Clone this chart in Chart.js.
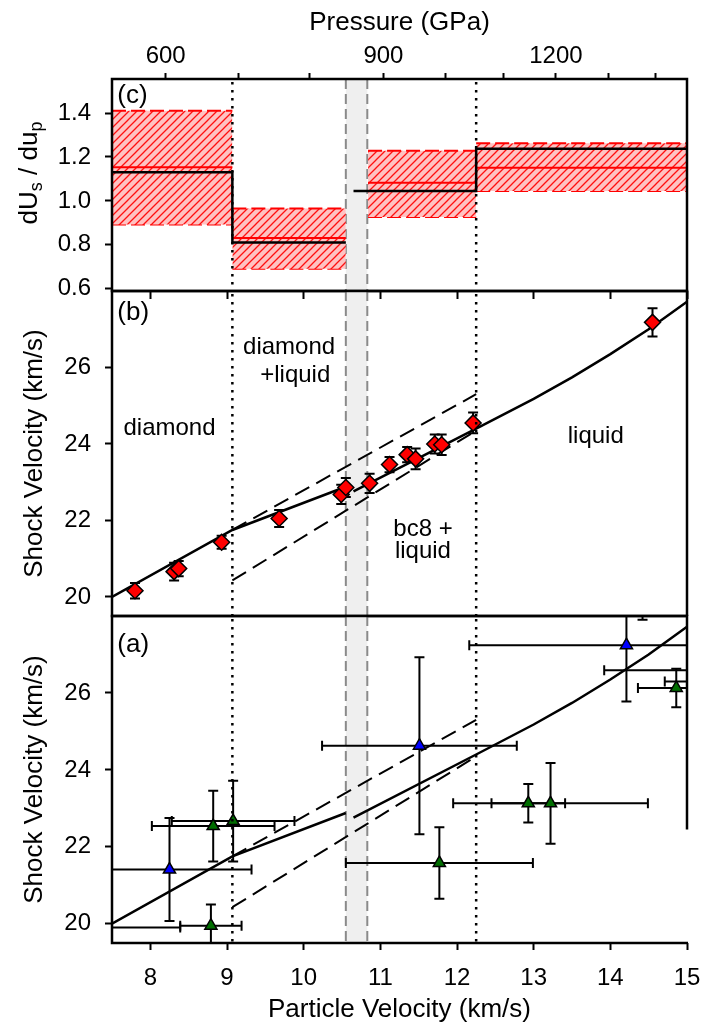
<!DOCTYPE html>
<html>
<head>
<meta charset="utf-8">
<script src="https://cdn.jsdelivr.net/npm/chart.js@4.4.1/dist/chart.umd.min.js"></script>
<style>
  body { margin: 0; background: #fff; }
  #wrap { position: relative; width: 706px; height: 1025px; }
  #wrap canvas { position: absolute; left: 0; top: 0; width: 706px; height: 1025px; }
</style>
</head>
<body>
<div id="wrap">
  <canvas id="panelC" width="706" height="1025"></canvas>
  <canvas id="panelB" width="706" height="1025"></canvas>
  <canvas id="panelA" width="706" height="1025"></canvas>
</div>
<script>
// shared x axis (particle velocity, km/s)
const upMin = 7.5, upMax = 15;
const velTicks = [8, 9, 10, 11, 12, 13, 14, 15];
// top axis: pressure (GPa) and where each tick sits in particle velocity
const pressureTicks = [600, 700, 800, 900, 1000, 1100, 1200, 1300, 1400];
const pressureAtUp = [8.20, 9.15, 10.08, 11.04, 11.85, 12.61, 13.29, 13.97, 14.59];
const pressureLabelled = [600, 900, 1200];

const phaseBounds = [9.07, 12.25];     // dotted lines
const bandEdges = [10.55, 10.83];      // grey band

// (c) dUs/dup
const slopeTicks = [0.6, 0.8, 1.0, 1.2, 1.4];
const slopeX0 = [7.5, 9.07, 10.84, 12.25];
const slopeX1 = [9.07, 10.55, 12.25, 15.0];
const slopeHi = [1.41, 0.966, 1.228, 1.263];
const slopeLo = [0.893, 0.691, 0.927, 1.045];
const slopeMid = [1.153, 0.831, 1.083, 1.151];
const stepX = [7.5, 9.07, 9.07, 10.55, null, 10.65, 12.25, 12.25, 15.0];
const stepY = [1.13, 1.13, 0.811, 0.811, null, 1.045, 1.045, 1.237, 1.237];

// Us-up fit and bounds (panels a and b)
const usTicks = [20, 22, 24, 26];
const fitX = [7.5, 9.07, 10.55, null, 10.65, 12.25, 13.0, 13.5, 14.0, 14.5, 15.0];
const fitY = [20.0, 21.75, 22.88, null, 22.76, 24.40, 25.18, 25.74, 26.35, 27.0, 27.72];
const upperX = [9.07, 12.25];
const upperY = [21.75, 25.30];
const lowerX = [9.07, 12.25];
const lowerY = [20.43, 24.35];

// (b) this work
const bUp = [7.80, 8.31, 8.37, 8.93, 9.68, 10.49, 10.55, 10.86, 11.12, 11.35, 11.46, 11.71, 11.80, 12.21, 14.55];
const bUs = [20.16, 20.66, 20.74, 21.43, 22.05, 22.68, 22.86, 22.97, 23.46, 23.72, 23.61, 24.00, 23.98, 24.55, 27.18];
const bErr = [0.20, 0.23, 0.20, 0.17, 0.22, 0.25, 0.25, 0.25, 0.20, 0.20, 0.27, 0.25, 0.27, 0.27, 0.37];

// (a) earlier data
const blueUp = [8.25, 11.51, 14.21];
const blueUs = [21.41, 24.63, 27.24];
const blueErrUp = [1.07, 1.27, 2.05];
const blueErrUs = [1.34, 2.30, 1.46];
const greenUp = [7.20, 8.79, 8.82, 9.08, 11.77, 12.93, 13.22, 14.42, 14.86, 15.20, 15.30];
const greenUs = [19.90, 19.95, 22.54, 22.67, 21.58, 23.13, 23.13, 28.90, 26.13, 26.30, 26.59];
const greenErrUp = [1.19, 0.40, 0.80, 0.80, 1.22, 0.48, 1.27, 0, 0.50, 0.49, 1.38];
const greenErrUs = [0.50, 0.55, 0.92, 1.05, 0.93, 0.50, 1.05, 1.00, 0.50, 0.50, 0.50];

const FONT = "'Liberation Sans', Arial, Helvetica, sans-serif";
Chart.defaults.font.family = FONT;
Chart.defaults.color = '#000';

const pts = (xs, ys) => xs.map((x, i) => ({x: x, y: ys[i]}));

function hatchPattern() {
    const c = document.createElement('canvas');
    c.width = 8; c.height = 8;
    const g = c.getContext('2d');
    g.fillStyle = '#ffc2c2';
    g.fillRect(0, 0, 8, 8);
    g.strokeStyle = '#ff1010';
    g.lineWidth = 1.3;
    g.beginPath();
    g.moveTo(0, 8); g.lineTo(8, 0);
    g.moveTo(-1, 1); g.lineTo(1, -1);
    g.moveTo(7, 9); g.lineTo(9, 7);
    g.stroke();
    return g.createPattern(c, 'repeat');
}

const framePlugin = {
    id: 'frame',
    afterDraw(chart, args, opts) {
        const {ctx, chartArea: a} = chart;
        const rEnd = opts.rightStop != null ? chart.scales.y.getPixelForValue(opts.rightStop) : a.bottom;
        ctx.save();
        ctx.strokeStyle = '#000';
        ctx.lineWidth = 2.5;
        ctx.beginPath();
        ctx.moveTo(a.right, rEnd);
        ctx.lineTo(a.right, a.top);
        ctx.lineTo(a.left, a.top);
        ctx.lineTo(a.left, a.bottom);
        ctx.lineTo(a.right + 1, a.bottom);
        ctx.stroke();
        ctx.restore();
    }
};

const guidePlugin = {
    id: 'guides',
    beforeDatasetsDraw(chart) {
        const {ctx, chartArea: a} = chart;
        const x = chart.scales.x;
        const x0 = x.getPixelForValue(bandEdges[0]);
        const x1 = x.getPixelForValue(bandEdges[1]);
        ctx.save();
        ctx.fillStyle = '#efefef';
        ctx.fillRect(x0, a.top, x1 - x0, a.bottom - a.top);
        ctx.strokeStyle = '#8a8a8a';
        ctx.lineWidth = 2;
        ctx.setLineDash([10, 5]);
        bandEdges.forEach(v => {
            const px = x.getPixelForValue(v);
            ctx.beginPath(); ctx.moveTo(px, a.top); ctx.lineTo(px, a.bottom); ctx.stroke();
        });
        ctx.restore();
    },
    afterDatasetsDraw(chart) {
        const {ctx, chartArea: a} = chart;
        const x = chart.scales.x;
        ctx.save();
        ctx.strokeStyle = '#000';
        ctx.lineWidth = 2.5;
        ctx.setLineDash([2.5, 5.5]);
        phaseBounds.forEach(v => {
            const px = x.getPixelForValue(v);
            ctx.beginPath(); ctx.moveTo(px, a.top + 3); ctx.lineTo(px, a.bottom); ctx.stroke();
        });
        ctx.restore();
    }
};

// error bars, drawn under the markers and clipped to the panel
const errorBarPlugin = {
    id: 'errbars',
    beforeDatasetsDraw(chart, args, opts) {
        if (!opts.series) return;
        const {ctx, chartArea: a} = chart;
        const xs = chart.scales.x, ys = chart.scales.y;
        const cap = 5;
        ctx.save();
        ctx.beginPath();
        ctx.rect(a.left, a.top, a.right - a.left, a.bottom - a.top);
        ctx.clip();
        ctx.strokeStyle = '#000';
        ctx.lineWidth = 2;
        opts.series.forEach(s => {
            s.x.forEach((xv, i) => {
                const px = xs.getPixelForValue(xv), py = ys.getPixelForValue(s.y[i]);
                const ey = s.ey ? s.ey[i] : 0, ex = s.ex ? s.ex[i] : 0;
                ctx.beginPath();
                if (ey) {
                    const t = ys.getPixelForValue(s.y[i] + ey), b = ys.getPixelForValue(s.y[i] - ey);
                    ctx.moveTo(px, t); ctx.lineTo(px, b);
                    ctx.moveTo(px - cap, t); ctx.lineTo(px + cap, t);
                    ctx.moveTo(px - cap, b); ctx.lineTo(px + cap, b);
                }
                if (ex) {
                    const l = xs.getPixelForValue(xv - ex), r = xs.getPixelForValue(xv + ex);
                    ctx.moveTo(l, py); ctx.lineTo(r, py);
                    ctx.moveTo(l, py - cap); ctx.lineTo(l, py + cap);
                    ctx.moveTo(r, py - cap); ctx.lineTo(r, py + cap);
                }
                ctx.stroke();
            });
        });
        ctx.restore();
    }
};

const textPlugin = {
    id: 'texts',
    afterDraw(chart, args, opts) {
        const {ctx} = chart;
        const xs = chart.scales.x, ys = chart.scales.y;
        ctx.save();
        ctx.fillStyle = '#000';
        ctx.textBaseline = 'middle';
        (opts.items || []).forEach(t => {
            ctx.font = (t.size || 24) + 'px ' + FONT;
            ctx.textAlign = t.align || 'center';
            ctx.fillText(t.text, xs.getPixelForValue(t.x), ys.getPixelForValue(t.y));
        });
        if (opts.subTitle) {
            // rotated axis title with subscripts
            const a = chart.chartArea;
            ctx.translate(37, (a.top + a.bottom) / 2 - 12);
            ctx.rotate(-Math.PI / 2);
            ctx.textAlign = 'left';
            ctx.textBaseline = 'alphabetic';
            const parts = opts.subTitle;
            let total = 0;
            parts.forEach(p => {
                ctx.font = (p.sub ? 18 : 26) + 'px ' + FONT;
                total += ctx.measureText(p.text).width;
            });
            let cx = -total / 2;
            parts.forEach(p => {
                ctx.font = (p.sub ? 18 : 26) + 'px ' + FONT;
                ctx.fillText(p.text, cx, p.sub ? 5 : 0);
                cx += ctx.measureText(p.text).width;
            });
        }
        ctx.restore();
    }
};

const tickGrid = len => ({drawOnChartArea: false, drawTicks: true, tickLength: len, tickWidth: 2, color: '#000'});

// keep end labels from shrinking the plot area
function fixHeight(h) {
    return s => { s.height = h; s.paddingLeft = 0; s.paddingRight = 0; };
}

function hiddenX() {
    return {type: 'linear', min: upMin, max: upMax, display: false};
}

function usAxis() {
    return {
        min: 19.5, max: 28,
        afterBuildTicks: s => { s.ticks = usTicks.map(v => ({value: v})); },
        afterFit: s => { s.width = 112; },
        ticks: {font: {size: 24}, padding: 14},
        grid: tickGrid(7),
        border: {display: false},
        title: {display: true, text: 'Shock Velocity (km/s)', font: {size: 26}, padding: {top: 19}}
    };
}

function lineSet(data, color, width, dash, order) {
    return {data: data, borderColor: color, borderWidth: width, borderDash: dash || [],
            pointRadius: 0, fill: false, tension: 0, order: order};
}

const baseOpts = {
    responsive: false, animation: false, devicePixelRatio: 1, events: []
};

// ---------- (c) ----------
const hatch = hatchPattern();
const cSets = [];
slopeX0.forEach((x0, i) => {
    const x1 = slopeX1[i];
    const up = lineSet(pts([x0, x1], [slopeHi[i], slopeHi[i]]), '#ff0000', 2, [14, 5], 3);
    up.fill = '+1';
    up.backgroundColor = hatch;
    cSets.push(up);
    cSets.push(lineSet(pts([x0, x1], [slopeLo[i], slopeLo[i]]), '#ff0000', 2, [14, 5], 3));
});
slopeX0.forEach((x0, i) => {
    cSets.push(lineSet(pts([x0, slopeX1[i]], [slopeMid[i], slopeMid[i]]), '#ff0000', 2, [], 2));
});
cSets.push(lineSet(pts(stepX, stepY), '#000', 2.5, [], 1));

new Chart(document.getElementById('panelC'), {
    type: 'line',
    data: {datasets: cSets},
    options: Object.assign({}, baseOpts, {
        layout: {padding: {left: 0, right: 19, top: 0, bottom: 726}},
        scales: {
            x: {
                type: 'linear', position: 'bottom', min: upMin, max: upMax,
                afterBuildTicks: s => { s.ticks = velTicks.map(v => ({value: v})); },
                afterFit: fixHeight(8),
                ticks: {display: false},
                grid: tickGrid(8),
                border: {display: false}
            },
            xTop: {
                type: 'linear', position: 'top', min: upMin, max: upMax,
                afterBuildTicks: s => { s.ticks = pressureAtUp.map(v => ({value: v})); },
                afterFit: fixHeight(79),
                ticks: {
                    font: {size: 24}, padding: 2, maxRotation: 0, autoSkip: false,
                    callback: (v, i) => pressureLabelled.includes(pressureTicks[i]) ? String(pressureTicks[i]) : ''
                },
                grid: tickGrid(6),
                border: {display: false},
                title: {display: true, text: 'Pressure (GPa)', font: {size: 26}, padding: {top: 7}}
            },
            y: {
                min: 0.59, max: 1.555,
                afterBuildTicks: s => { s.ticks = slopeTicks.map(v => ({value: v})); },
                afterFit: s => { s.width = 112; },
                ticks: {font: {size: 24}, padding: 14, callback: v => v.toFixed(1)},
                grid: tickGrid(7),
                border: {display: false}
            }
        },
        plugins: {
            legend: {display: false}, tooltip: {enabled: false},
            texts: {
                items: [{text: '(c)', x: 7.57, y: 1.479, align: 'left', size: 26}],
                subTitle: [{text: 'dU'}, {text: 's', sub: true}, {text: ' / du'}, {text: 'p', sub: true}]
            }
        }
    }),
    plugins: [guidePlugin, errorBarPlugin, textPlugin, framePlugin]
});

// ---------- (b) ----------
new Chart(document.getElementById('panelB'), {
    type: 'line',
    data: {datasets: [
        lineSet(pts(fitX, fitY), '#000', 2.5, [], 3),
        lineSet(pts(upperX, upperY), '#000', 2, [16, 8], 3),
        lineSet(pts(lowerX, lowerY), '#000', 2, [16, 8], 3),
        {data: pts(bUp, bUs), showLine: false, pointStyle: 'rectRot', pointRadius: 8,
         pointBackgroundColor: '#ff0000', pointBorderColor: '#000', pointBorderWidth: 1.5, order: 0}
    ]},
    options: Object.assign({}, baseOpts, {
        layout: {padding: {left: 0, right: 19, top: 291, bottom: 409}},
        scales: {x: hiddenX(), y: usAxis()},
        plugins: {
            legend: {display: false}, tooltip: {enabled: false},
            errbars: {series: [{x: bUp, y: bUs, ey: bErr}]},
            texts: {items: [
                {text: '(b)', x: 7.57, y: 27.42, align: 'left', size: 26},
                {text: 'diamond', x: 8.25, y: 24.42},
                {text: 'diamond', x: 9.81, y: 26.53},
                {text: '+liquid', x: 9.89, y: 25.80},
                {text: 'bc8 +', x: 11.17, y: 21.77, align: 'left'},
                {text: 'liquid', x: 11.19, y: 21.18, align: 'left'},
                {text: 'liquid', x: 13.81, y: 24.19}
            ]}
        }
    }),
    plugins: [guidePlugin, errorBarPlugin, textPlugin, framePlugin]
});

// ---------- (a) ----------
new Chart(document.getElementById('panelA'), {
    type: 'line',
    data: {datasets: [
        lineSet(pts(fitX, fitY), '#000', 2.5, [], 3),
        lineSet(pts(upperX, upperY), '#000', 2, [16, 8], 3),
        lineSet(pts(lowerX, lowerY), '#000', 2, [16, 8], 3),
        {data: pts(blueUp, blueUs), showLine: false, pointStyle: 'triangle', pointRadius: 7,
         pointBackgroundColor: '#0000ff', pointBorderColor: '#000', pointBorderWidth: 1.5, order: 0},
        {data: pts(greenUp, greenUs), showLine: false, pointStyle: 'triangle', pointRadius: 7,
         pointBackgroundColor: '#006e00', pointBorderColor: '#000', pointBorderWidth: 1.5, order: 0}
    ]},
    options: Object.assign({}, baseOpts, {
        layout: {padding: {left: 0, right: 19, top: 616, bottom: 0}},
        scales: {
            x: {
                type: 'linear', position: 'bottom', min: upMin, max: upMax,
                afterBuildTicks: s => { s.ticks = velTicks.map(v => ({value: v})); },
                afterFit: fixHeight(82),
                ticks: {font: {size: 24}, padding: 14, maxRotation: 0, autoSkip: false},
                grid: tickGrid(7),
                border: {display: false},
                title: {display: true, text: 'Particle Velocity (km/s)', font: {size: 26}, padding: {top: 0, bottom: 0}}
            },
            y: usAxis()
        },
        plugins: {
            legend: {display: false}, tooltip: {enabled: false},
            frame: {rightStop: 22.45},
            errbars: {series: [
                {x: blueUp, y: blueUs, ex: blueErrUp, ey: blueErrUs},
                {x: greenUp, y: greenUs, ex: greenErrUp, ey: greenErrUs}
            ]},
            texts: {items: [{text: '(a)', x: 7.57, y: 27.26, align: 'left', size: 26}]}
        }
    }),
    plugins: [guidePlugin, errorBarPlugin, textPlugin, framePlugin]
});
</script>
</body>
</html>
